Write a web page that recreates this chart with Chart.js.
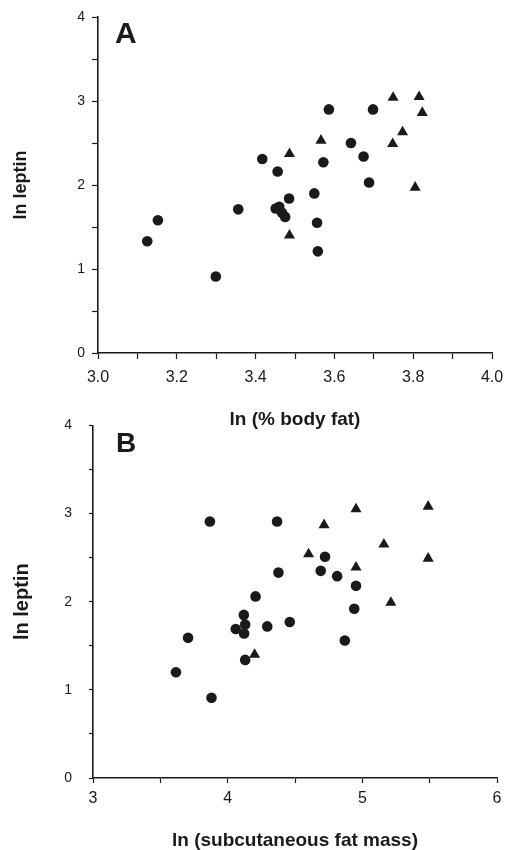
<!DOCTYPE html>
<html>
<head>
<meta charset="utf-8">
<script src="https://cdn.jsdelivr.net/npm/chart.js@4"></script>
<style>
  html, body { margin: 0; padding: 0; background: #fff; }
  body { width: 508px; height: 850px; position: relative; overflow: hidden; }
  canvas { position: absolute; left: 0; }
  #chartA { top: 0; }
  #chartB { top: 400px; }
</style>
</head>
<body>
<canvas id="chartA" width="508" height="440"></canvas>
<canvas id="chartB" width="508" height="450"></canvas>
<script>
// Panel A: ln leptin vs ln (% body fat)
const aCircleX = [3.125, 3.152, 3.299, 3.356, 3.417, 3.456, 3.451, 3.460, 3.467, 3.475, 3.485, 3.549, 3.556, 3.558, 3.572, 3.586, 3.642, 3.674, 3.688, 3.698];
const aCircleY = [1.33, 1.58, 0.91, 1.71, 2.31, 2.16, 1.72, 1.74, 1.67, 1.62, 1.84, 1.90, 1.55, 1.21, 2.27, 2.90, 2.50, 2.34, 2.03, 2.90];
const aTriX = [3.486, 3.486, 3.566, 3.749, 3.815, 3.823, 3.773, 3.748, 3.805];
const aTriY = [2.37, 1.40, 2.53, 3.04, 3.05, 2.86, 2.63, 2.49, 1.97];

// Panel B: ln leptin vs ln (subcutaneous fat mass)
const bCircleX = [3.616, 3.706, 3.868, 3.880, 4.060, 4.120, 4.130, 4.122, 4.130, 4.207, 4.294, 4.367, 4.377, 4.461, 4.691, 4.723, 4.813, 4.870, 4.940, 4.953];
const bCircleY = [1.20, 1.59, 2.91, 0.91, 1.69, 1.85, 1.74, 1.64, 1.34, 2.06, 1.72, 2.91, 2.33, 1.77, 2.35, 2.51, 2.29, 1.56, 1.92, 2.18];
const bTriX = [4.200, 4.601, 4.716, 4.953, 4.953, 5.160, 5.212, 5.489, 5.489];
const bTriY = [1.40, 2.54, 2.87, 3.05, 2.39, 2.65, 1.99, 3.08, 2.49];

const FONT = '"Liberation Sans", Arial, Helvetica, sans-serif';
const INK = '#1a1a1a';

const toPoints = (xs, ys) => xs.map((x, i) => ({ x, y: ys[i] }));

// draws the big panel letter in the top-left corner
const panelLetter = {
  id: 'panelLetter',
  afterDraw(chart, args, opts) {
    const { ctx } = chart;
    ctx.save();
    ctx.font = `bold ${opts.size}px ${FONT}`;
    ctx.fillStyle = INK;
    ctx.textBaseline = 'alphabetic';
    ctx.fillText(opts.text, opts.x, opts.y);
    ctx.restore();
  }
};

const makePanel = (canvas, cfg) => {
  const dataset = (data, style, radius) => ({
    data,
    pointStyle: style,
    pointRadius: radius,
    pointHoverRadius: radius,
    backgroundColor: INK,
    borderColor: INK,
    borderWidth: 0,
  });

  return new Chart(canvas, {
    type: 'scatter',
    data: {
      datasets: [
        dataset(cfg.circles, 'circle', 5.3),
        dataset(cfg.triangles, 'triangle', 6.4),
      ],
    },
    plugins: [panelLetter],
    options: {
      responsive: false,
      animation: false,
      layout: { padding: cfg.padding },
      plugins: {
        legend: { display: false },
        tooltip: { enabled: false },
        panelLetter: cfg.letter,
      },
      scales: {
        x: {
          type: 'linear',
          min: cfg.xMin,
          max: cfg.xMax,
          // fixed axis box; let layout padding decide the right edge
          afterFit: (scale) => {
            scale.height = cfg.xAxisHeight;
            scale.paddingLeft = 0;
            scale.paddingRight = 0;
          },
          border: { display: true, color: INK, width: 1.6 },
          grid: { drawOnChartArea: false, drawTicks: true, tickLength: cfg.xTickLength, color: INK, tickWidth: 1.2 },
          ticks: {
            stepSize: cfg.xStep,
            autoSkip: false,
            maxRotation: 0,
            padding: cfg.xTickPad,
            color: INK,
            font: { family: FONT, size: cfg.xTickSize },
            callback: cfg.xLabel,
          },
          title: {
            display: true,
            text: cfg.xTitle,
            color: INK,
            font: { family: FONT, size: 19, weight: 'bold' },
            padding: { top: 0, bottom: cfg.xTitlePad },
          },
        },
        y: {
          type: 'linear',
          min: 0,
          max: 4,
          afterFit: (scale) => { scale.width = cfg.yAxisWidth; },
          border: { display: true, color: INK, width: 1.6 },
          grid: { drawOnChartArea: false, drawTicks: true, tickLength: cfg.yTickLength, color: INK, tickWidth: 1.2 },
          ticks: {
            stepSize: 0.5,
            autoSkip: false,
            padding: cfg.yTickPad,
            color: INK,
            font: { family: FONT, size: 14 },
            callback: (v) => (Number.isInteger(v) ? String(v) : ''),
          },
          title: {
            display: true,
            text: 'ln leptin',
            color: INK,
            font: { family: FONT, size: cfg.yTitleSize, weight: 'bold' },
            padding: { top: cfg.yTitlePad, bottom: 0 },
          },
        },
      },
    },
  });
};

makePanel(document.getElementById('chartA'), {
  circles: toPoints(aCircleX, aCircleY),
  triangles: toPoints(aTriX, aTriY),
  xMin: 3.0,
  xMax: 4.0,
  xStep: 0.1,
  xLabel: (v, i) => (i % 2 === 0 ? v.toFixed(1) : ''),
  xTitle: 'ln (% body fat)',
  xTickSize: 16,
  xTickLength: 6,
  xTickPad: 9,
  xTitlePad: 9,
  xAxisHeight: 87,
  yAxisWidth: 98,
  yTickLength: 6,
  yTickPad: 7,
  yTitleSize: 18,
  yTitlePad: 10,
  padding: { top: 17, right: 16, left: 0, bottom: 0 },
  letter: { text: 'A', x: 115, y: 43, size: 30 },
});

makePanel(document.getElementById('chartB'), {
  circles: toPoints(bCircleX, bCircleY),
  triangles: toPoints(bTriX, bTriY),
  xMin: 3,
  xMax: 6,
  xStep: 0.5,
  xLabel: (v) => (Number.isInteger(v) ? String(v) : ''),
  xTitle: 'ln (subcutaneous fat mass)',
  xTickSize: 16,
  xTickLength: 5,
  xTickPad: 6,
  xTitlePad: -2,
  xAxisHeight: 72,
  yAxisWidth: 93,
  yTickLength: 4,
  yTickPad: 17,
  yTitleSize: 20,
  yTitlePad: 10,
  padding: { top: 25, right: 11, left: 0, bottom: 0 },
  letter: { text: 'B', x: 116, y: 52, size: 28 },
});
</script>
</body>
</html>
